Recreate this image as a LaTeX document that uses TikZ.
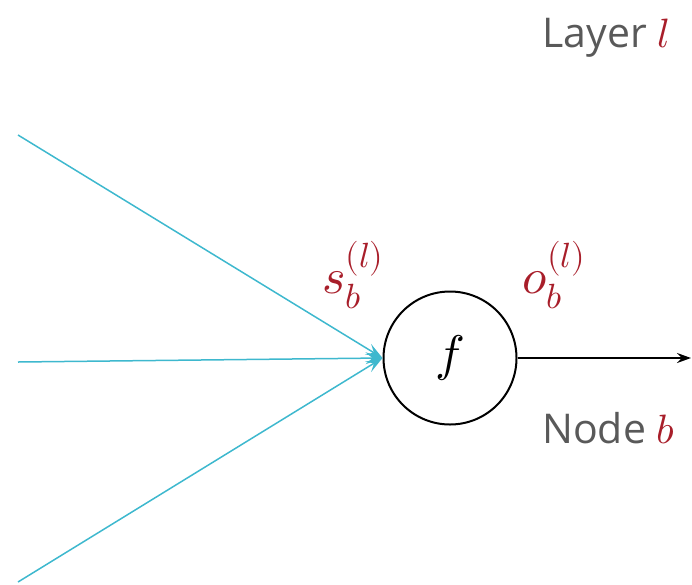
\documentclass[tikz,border=0pt]{standalone}
\usepackage{fontspec}
\usepackage{unicode-math}
\setmainfont{Open Sans}
\setmathfont{Latin Modern Math}
\usetikzlibrary{arrows.meta}
\definecolor{lblred}{RGB}{168,30,42}
\definecolor{txtgray}{RGB}{89,89,89}
\definecolor{incyan}{RGB}{62,184,206}
\tikzset{
  inline/.style={draw=incyan, line width=1.5pt, -{Stealth[length=17pt,width=12pt,inset=7pt]}},
  outline/.style={draw=black, line width=2pt, -{Stealth[length=14pt,width=10pt,inset=5pt]}},
  neuron/.style={circle, draw=black, line width=2pt, minimum size=133pt, inner sep=0pt},
  caption/.style={text=txtgray, font=\fontsize{41}{45}\selectfont, inner sep=0pt},
  mathlbl/.style={text=lblred, font=\fontsize{50}{54}\selectfont, inner sep=0pt}
}
\begin{document}
\begin{tikzpicture}[x=1pt,y=-1pt]
\useasboundingbox (0,0) rectangle (692,584);
\node[neuron] (f) at (450,358) {\fontsize{50}{54}\selectfont$f$};
\coordinate (i1) at (18,135);
\coordinate (i2) at (18,362);
\coordinate (i3) at (18,582);
\coordinate (o) at (691,358);
\draw[inline] (i1) -- (f.west);
\draw[inline] (i2) -- (f.west);
\draw[inline] (i3) -- (f.west);
\draw[outline] (f.east) -- (o);
\node[mathlbl] (s) at (353,275) {$s_b^{(l)}$};
\node[mathlbl] (ob) at (554,275) {$o_b^{(l)}$};
\node[caption, anchor=base east] (layer) at (670,47) {Layer \textcolor{lblred}{$l$}};
\node[caption, anchor=base east] (node) at (675,443) {Node \textcolor{lblred}{$b$}};
\end{tikzpicture}
\end{document}
